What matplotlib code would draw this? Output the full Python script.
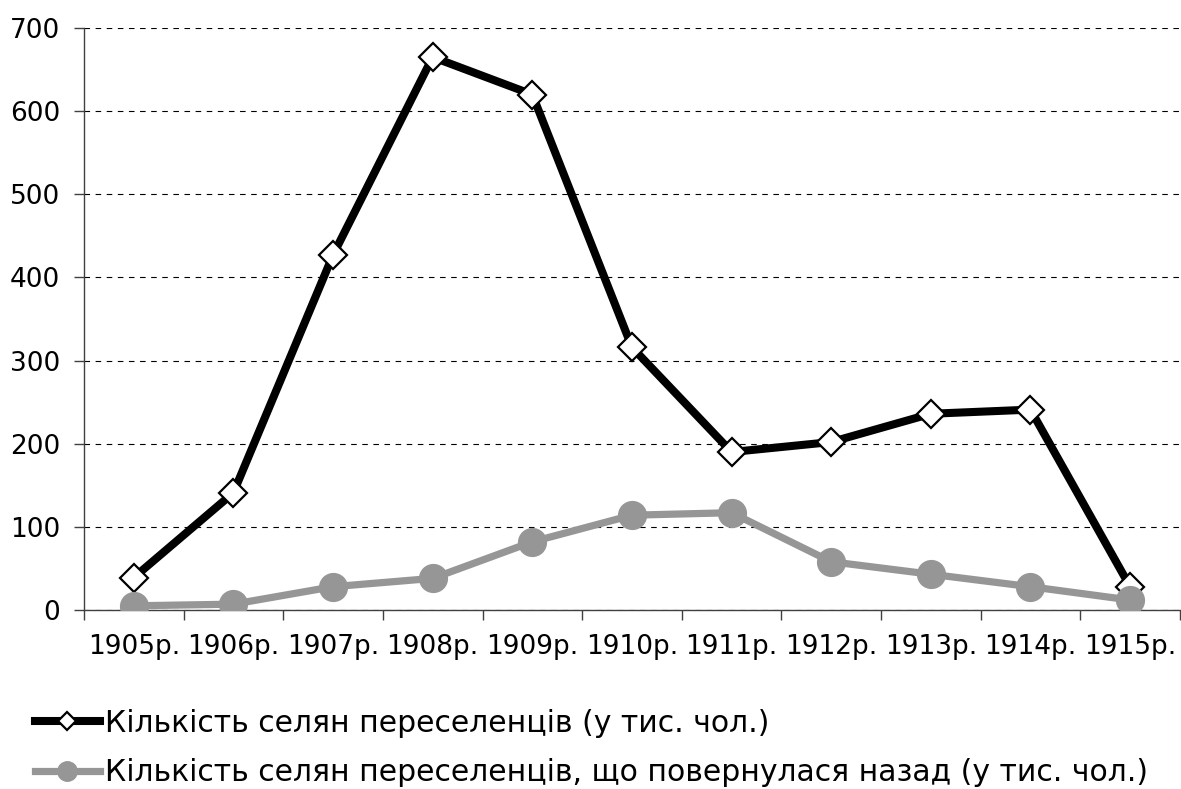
import matplotlib
matplotlib.use('Agg')
import matplotlib.pyplot as plt
from matplotlib.lines import Line2D

plt.rcParams['font.family'] = ['DejaVu Sans']

years = ['1905р.', '1906р.', '1907р.', '1908р.', '1909р.', '1910р.',
         '1911р.', '1912р.', '1913р.', '1914р.', '1915р.']
settlers = [39, 141, 427, 665, 620, 316, 190, 202, 236, 241, 28]
returned = [5, 7, 28, 38, 82, 114, 117, 58, 43, 28, 12]

label_settlers = 'Кількість селян переселенців (у тис. чол.)'
label_returned = 'Кількість селян переселенців, що повернулася назад (у тис. чол.)'

grey = '#969696'

fig = plt.figure(figsize=(11.81, 7.89), dpi=100)
ax = fig.add_axes([0.0711, 0.2269, 0.928, 0.7376])

x = list(range(len(years)))
ax.plot(x, settlers, c='k', lw=5.8, marker='D', ms=14, mfc='white',
        mec='k', mew=1.6, zorder=3)
ax.plot(x, returned, c=grey, lw=5.2, marker='o', ms=20, mfc=grey,
        mec=grey, zorder=4)

ax.set_ylim(0, 700)
ax.set_yticks(range(0, 701, 100))
ax.set_xlim(-0.5, len(years) - 0.5)
ax.set_xticks(x)
ax.set_xticklabels(years)
ax.set_xticks([i - 0.5 for i in range(len(years) + 1)], minor=True)
ax.tick_params(axis='x', which='major', length=0, pad=17, labelsize=19)
ax.tick_params(axis='x', which='minor', length=7, width=1, color='#404040')
ax.tick_params(axis='y', length=7, width=1, color='#404040', pad=10,
               labelsize=19)

ax.yaxis.grid(True, ls=(0, (5, 5)), color='k', lw=0.8)
ax.set_axisbelow(True)
for side in ('top', 'right'):
    ax.spines[side].set_visible(False)
for side in ('left', 'bottom'):
    ax.spines[side].set_color('#404040')
    ax.spines[side].set_linewidth(1)

handles = [
    Line2D([], [], c='k', lw=5.8, marker='D', ms=9, mfc='white', mec='k',
           mew=1.6),
    Line2D([], [], c=grey, lw=5.2, marker='o', ms=14, mfc=grey, mec=grey),
]
fig.legend(handles, [label_settlers, label_returned], loc='upper left',
           bbox_to_anchor=(0.0296, 0.102), frameon=False, fontsize=21.5,
           handlelength=2.17, handletextpad=0.17, labelspacing=0.7,
           borderaxespad=0, borderpad=0)

fig.savefig('out.png', dpi=100)
